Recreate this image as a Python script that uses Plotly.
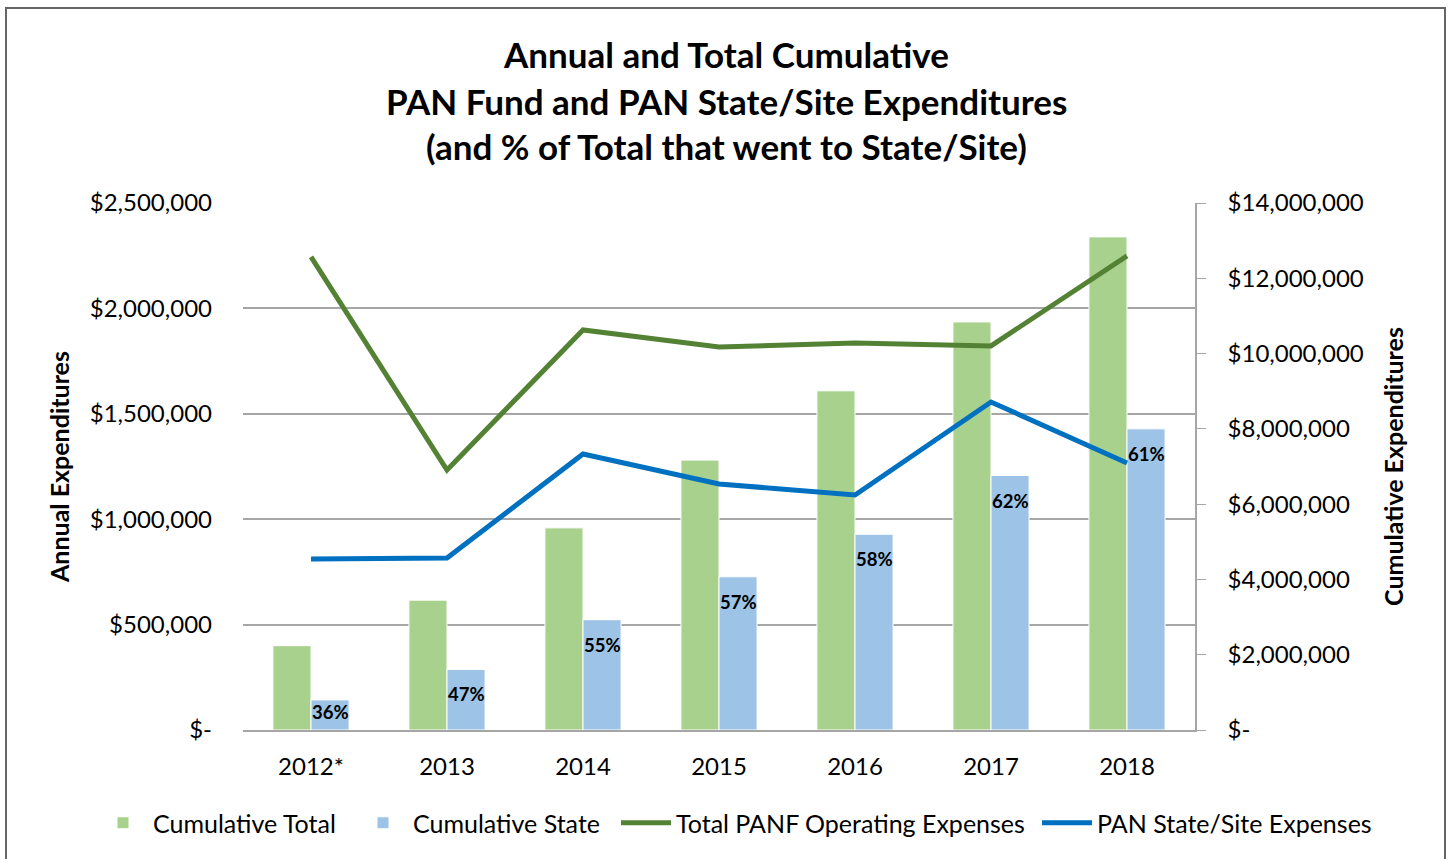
import plotly.graph_objects as go

# ---- data ----
years = ["2012*", "2013", "2014", "2015", "2016", "2017", "2018"]
cumulative_total = [2240000, 3450000, 5370000, 7170000, 9010000, 10840000, 13100000]
cumulative_state = [800000, 1610000, 2930000, 4070000, 5200000, 6760000, 8000000]
total_panf_opex = [2244000, 1233000, 1898000, 1817000, 1836000, 1822000, 2249000]
pan_state_site = [811000, 816000, 1309000, 1167000, 1115000, 1556000, 1267000]
pct_labels = ["36%", "47%", "55%", "57%", "58%", "62%", "61%"]

left_tickvals = [0, 500000, 1000000, 1500000, 2000000, 2500000]
left_ticktext = ["$-", "$500,000", "$1,000,000", "$1,500,000", "$2,000,000", "$2,500,000"]
right_tickvals = [0, 2000000, 4000000, 6000000, 8000000, 10000000, 12000000, 14000000]
right_ticktext = ["$-", "$2,000,000", "$4,000,000", "$6,000,000", "$8,000,000",
                  "$10,000,000", "$12,000,000", "$14,000,000"]

FONT = "Lato"
GREEN_BAR = "#a9d18e"
BLUE_BAR = "#9dc3e6"
GREEN_LINE = "#548235"
BLUE_LINE = "#0070c0"
GRID = "#a6a6a6"

fig = go.Figure()
fig.add_trace(go.Bar(x=years, y=cumulative_total, name="Cumulative Total", legend="legend",
                     marker=dict(color=GREEN_BAR, line=dict(color="white", width=1)), yaxis="y"))
fig.add_trace(go.Bar(x=years, y=cumulative_state, name="Cumulative State", legend="legend2",
                     marker=dict(color=BLUE_BAR, line=dict(color="white", width=1)), yaxis="y"))
fig.add_trace(go.Scatter(x=years, y=total_panf_opex, name="Total PANF Operating Expenses", legend="legend3",
                         mode="lines", line=dict(color=GREEN_LINE, width=5), yaxis="y2"))
fig.add_trace(go.Scatter(x=years, y=pan_state_site, name="PAN State/Site Expenses", legend="legend4",
                         mode="lines", line=dict(color=BLUE_LINE, width=5), yaxis="y2"))

PLOT_H = 527
PLOT_W = 952
RMAX = 14000000
unit = RMAX / PLOT_H
annotations = []
for i, (v, t) in enumerate(zip(cumulative_state, pct_labels)):
    ylab = max(v - 25 * unit, 18 * unit)
    annotations.append(dict(x=i, y=ylab, xref="x", yref="y", xshift=19, text=t,
                            showarrow=False, font=dict(family=FONT, size=18.5, color="black", weight="bold")))

title_lines = ["Annual and Total Cumulative", "PAN Fund and PAN State/Site Expenditures",
               "(and % of Total that went to State/Site)"]
for line, py in zip(title_lines, [54, 101, 146]):
    annotations.append(dict(x=(726 - 243) / PLOT_W, y=(730 - py) / PLOT_H, xref="paper", yref="paper",
                            text=line, showarrow=False, xanchor="center", yanchor="middle",
                            font=dict(family=FONT, size=35, color="black", weight="bold")))

legend_common = dict(orientation="h", xanchor="left", yanchor="middle", y=(730 - 823) / PLOT_H,
                     font=dict(family=FONT, size=25, color="black"), traceorder="normal",
                     itemwidth=50, bgcolor="rgba(0,0,0,0)")

fig.update_layout(
    width=1452, height=859, autosize=False,
    margin=dict(l=243, r=257, t=203, b=129),
    paper_bgcolor="white", plot_bgcolor="white",
    font=dict(family=FONT, size=24, color="black"),
    barmode="group", bargap=0.44, bargroupgap=0.0,
    showlegend=True,
    legend=dict(x=(93 - 243) / PLOT_W, **legend_common),
    legend2=dict(x=(353 - 243) / PLOT_W, **legend_common),
    legend3=dict(x=(616 - 243) / PLOT_W, **legend_common),
    legend4=dict(x=(1037 - 243) / PLOT_W, **legend_common),
    xaxis=dict(type="category", showline=True, linecolor=GRID, linewidth=1.5, ticks="", showgrid=False,
               tickfont=dict(family=FONT, size=24), ticklabelstandoff=14),
    yaxis=dict(side="right", range=[0, RMAX], tickvals=right_tickvals, ticktext=right_ticktext,
               showgrid=False, showline=True, linecolor=GRID, linewidth=1.5, ticks="outside",
               ticklen=9, tickcolor=GRID, tickfont=dict(family=FONT, size=24), ticklabelstandoff=17,
               zeroline=False,
               title=dict(text="Cumulative Expenditures", standoff=23,
                          font=dict(family=FONT, size=25, weight="bold"))),
    yaxis2=dict(overlaying="y", side="left", range=[0, 2500000], tickvals=left_tickvals,
                ticktext=left_ticktext, showgrid=True, gridcolor=GRID, gridwidth=1.5,
                showline=False, ticks="", zeroline=False, tickfont=dict(family=FONT, size=24),
                ticklabelstandoff=30,
                title=dict(text="Annual Expenditures", standoff=12,
                           font=dict(family=FONT, size=25, weight="bold"))),
    annotations=annotations,
    shapes=[dict(type="rect", xref="paper", yref="paper",
                 x0=(6 - 243) / PLOT_W, x1=(1445 - 243) / PLOT_W,
                 y0=(730 - 880) / PLOT_H, y1=(730 - 8) / PLOT_H,
                 line=dict(color="#666666", width=2), fillcolor="rgba(0,0,0,0)", layer="below")],
)

fig.write_html("out.html", config={"displayModeBar": False},
               post_script="document.body.style.margin='0';")
